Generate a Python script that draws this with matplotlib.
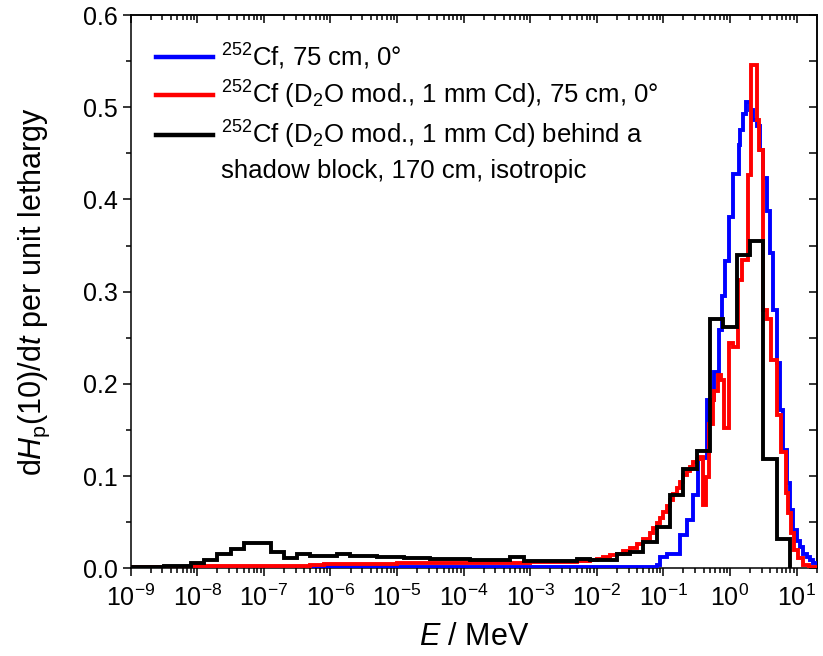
import numpy as np
import matplotlib
matplotlib.use("Agg")
import matplotlib.pyplot as plt
from matplotlib.ticker import LogLocator, NullFormatter, MultipleLocator, FormatStrFormatter
from matplotlib.lines import Line2D

plt.rcParams["font.family"] = ["Liberation Sans", "DejaVu Sans"]
plt.rcParams["mathtext.fontset"] = "custom"
plt.rcParams["mathtext.rm"] = "Liberation Sans"
plt.rcParams["mathtext.it"] = "Liberation Sans:italic"
plt.rcParams["mathtext.default"] = "regular"

# bin edges as log10(E / MeV), value per bin (dH/dt per unit lethargy)
blue_edges = [-9.0, -1.10, -1.05, -0.95, -0.75, -0.65, -0.56, -0.48, -0.40, -0.34,
              -0.24, -0.16, -0.12, -0.07, -0.01, 0.04, 0.13, 0.15, 0.19, 0.24,
              0.30, 0.35, 0.40, 0.45, 0.50, 0.55, 0.60, 0.65, 0.70, 0.75,
              0.80, 0.85, 0.90, 0.95, 1.00, 1.05, 1.10, 1.15, 1.20, 1.25, 1.35]
blue_vals = [0.0015, 0.004, 0.012, 0.016, 0.036, 0.052, 0.080, 0.118, 0.120, 0.183,
             0.213, 0.258, 0.295, 0.333, 0.381, 0.428, 0.459, 0.475, 0.493, 0.506,
             0.497, 0.486, 0.480, 0.454, 0.423, 0.387, 0.342, 0.28, 0.223, 0.172,
             0.128, 0.092, 0.063, 0.041, 0.030, 0.023, 0.016, 0.012, 0.009, 0.006]

red_edges = [-9.0, -8.1, -6.5, -6.3, -6.1, -5.0, -4.0, -3.0, -2.5, -2.3,
             -2.1, -2.0, -1.9, -1.8, -1.7, -1.6, -1.5, -1.4, -1.3, -1.2,
             -1.15, -1.1, -1.05, -1.0, -0.95, -0.9, -0.85, -0.8, -0.75, -0.7,
             -0.65, -0.6, -0.55, -0.5, -0.45, -0.41, -0.36, -0.31, -0.26, -0.235,
             -0.185, -0.135, -0.085, -0.01, 0.04, 0.12, 0.18, 0.265, 0.31, 0.40,
             0.43, 0.49, 0.55, 0.62, 0.70, 0.765, 0.84, 0.865, 0.915, 0.965,
             1.015, 1.09, 1.19, 1.35]
red_vals = [0.0015, 0.002, 0.003, 0.004, 0.005, 0.0055, 0.006, 0.0065, 0.007, 0.008,
            0.009, 0.010, 0.012, 0.014, 0.016, 0.019, 0.022, 0.026, 0.032, 0.038,
            0.044, 0.049, 0.055, 0.061, 0.068, 0.074, 0.081, 0.087, 0.094, 0.101,
            0.106, 0.110, 0.115, 0.119, 0.121, 0.069, 0.099, 0.157, 0.183, 0.192,
            0.210, 0.204, 0.152, 0.244, 0.240, 0.313, 0.334, 0.427, 0.546, 0.486,
            0.454, 0.280, 0.270, 0.226, 0.166, 0.126, 0.082, 0.060, 0.038, 0.020,
            0.011, 0.004, 0.0015]

black_edges = [-9.0, -8.7, -8.5, -8.3, -8.1, -7.9, -7.7, -7.5, -7.3, -6.9,
               -6.7, -6.5, -6.3, -5.9, -5.7, -5.5, -5.3, -5.1, -4.9, -4.7,
               -4.5, -4.3, -3.9, -3.5, -3.3, -3.1, -2.3, -2.1, -1.7, -1.5,
               -1.3, -1.1, -0.9, -0.7, -0.5, -0.3, -0.1, 0.1, 0.3, 0.5,
               0.7, 0.9]
black_vals = [0.0015, 0.0015, 0.002, 0.0025, 0.0054, 0.009, 0.016, 0.021, 0.027, 0.018,
              0.011, 0.0155, 0.013, 0.0153, 0.013, 0.013, 0.0125, 0.012, 0.0115, 0.011,
              0.0105, 0.010, 0.0095, 0.009, 0.012, 0.0083, 0.010, 0.009, 0.015, 0.018,
              0.029, 0.045, 0.079, 0.108, 0.127, 0.270, 0.262, 0.340, 0.355, 0.118,
              0.032]

labels = [r"$^{252}$Cf, 75 cm, 0°",
          r"$^{252}$Cf (D$_2$O mod., 1 mm Cd), 75 cm, 0°",
          r"$^{252}$Cf (D$_2$O mod., 1 mm Cd) behind a",
          "shadow block, 170 cm, isotropic"]

fig = plt.figure(figsize=(8.23, 6.56), dpi=100)
ax = fig.add_axes([0.1588, 0.1337, 0.8335, 0.8434])

lw = 2.8
ax.stairs(blue_vals, 10 ** np.array(blue_edges), baseline=None, color="#0000ff", lw=lw, zorder=3)
ax.stairs(red_vals, 10 ** np.array(red_edges), baseline=None, color="#ff0000", lw=lw, zorder=3)
ax.stairs(black_vals, 10 ** np.array(black_edges), baseline=0, color="black", lw=lw, zorder=3)

ax.set_xscale("log")
ax.set_xlim(1e-9, 20)
ax.set_ylim(0, 0.6)

ax.xaxis.set_major_locator(LogLocator(base=10, numticks=20))
ax.xaxis.set_minor_locator(LogLocator(base=10, subs=np.arange(2, 10) * 1.0, numticks=200))
ax.xaxis.set_minor_formatter(NullFormatter())
ax.yaxis.set_major_locator(MultipleLocator(0.1))
ax.yaxis.set_minor_locator(MultipleLocator(0.05))
ax.yaxis.set_major_formatter(FormatStrFormatter("%.1f"))
ax.tick_params(which="major", direction="out", length=6, width=1.1, labelsize=18)
ax.tick_params(axis="x", which="major", pad=6)
ax.tick_params(which="minor", direction="out", length=3.5, width=1.1)
for s in ax.spines.values():
    s.set_linewidth(1.1)

# top / right axes with inward ticks
secx = ax.secondary_xaxis("top")
secx.xaxis.set_major_locator(LogLocator(base=10, numticks=20))
secx.xaxis.set_minor_locator(LogLocator(base=10, subs=np.arange(2, 10) * 1.0, numticks=200))
secx.xaxis.set_minor_formatter(NullFormatter())
secx.tick_params(which="major", direction="in", length=6, width=1.1, labeltop=False)
secx.tick_params(which="minor", direction="in", length=3.5, width=1.1)
secx.spines["top"].set_linewidth(1.1)
secy = ax.secondary_yaxis("right")
secy.yaxis.set_major_locator(MultipleLocator(0.1))
secy.yaxis.set_minor_locator(MultipleLocator(0.05))
secy.tick_params(which="both", direction="in", length=6, width=1.1, labelright=False)
secy.spines["right"].set_linewidth(1.1)

ax.set_xlabel(r"$\mathit{E}$ / MeV", fontsize=22, labelpad=8)
ax.set_ylabel(r"d$\mathit{H}_\mathrm{p}$(10)/d$\mathit{t}$ per unit lethargy", fontsize=22, labelpad=22)

handles = [Line2D([], [], color="#0000ff", lw=3.2),
           Line2D([], [], color="#ff0000", lw=3.2),
           Line2D([], [], color="black", lw=3.2),
           Line2D([], [], color="none", lw=3.2)]
ax.legend(handles, labels, loc="upper left", frameon=False, fontsize=18.5,
          handlelength=2.25, handletextpad=0.3, labelspacing=0.3,
          borderaxespad=0.3, bbox_to_anchor=(0.01, 0.985))

fig.savefig("out.png", dpi=100)
